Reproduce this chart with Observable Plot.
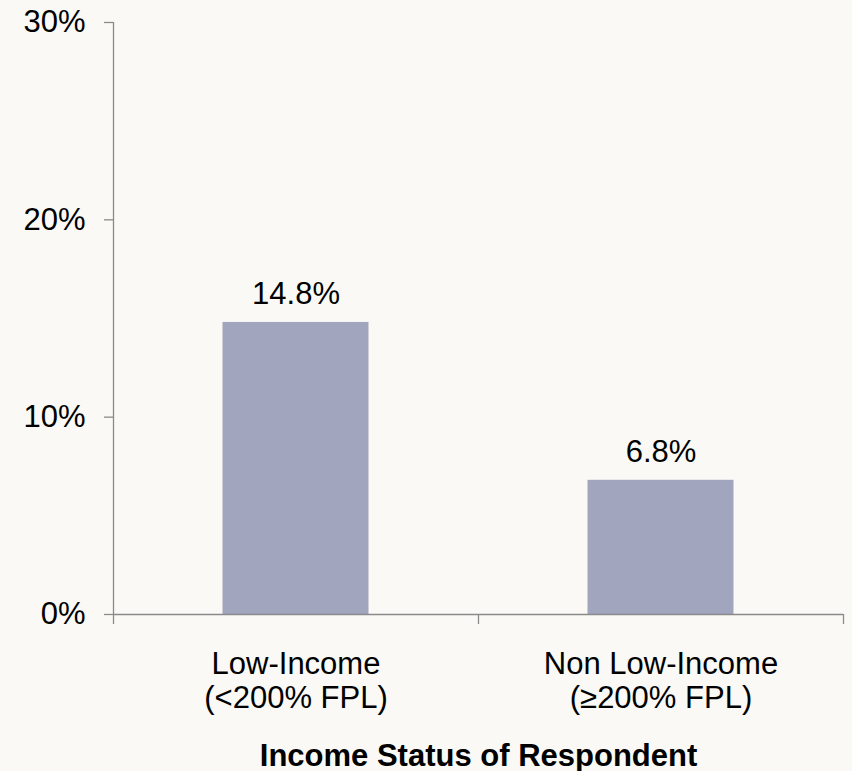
<!DOCTYPE html>
<html>
<head>
<meta charset="utf-8">
<script src="https://cdn.jsdelivr.net/npm/d3@7"></script>
<script src="https://cdn.jsdelivr.net/npm/@observablehq/plot@0.6"></script>
<style>
  html, body { margin: 0; padding: 0; background: #FAF9F5; }
  #chart svg { display: block; }
</style>
</head>
<body>
<div id="chart"></div>
<script>
const categories = ["Low-Income\n(<200% FPL)", "Non Low-Income\n(≥200% FPL)"];
const values = [14.8, 6.8];
const yTicks = [0, 10, 20, 30];
const axisTitle = "Income Status of Respondent";

const data = categories.map((c, i) => ({category: c, value: values[i], index: i}));
const bounds = d3.range(categories.length + 1);

const axisColor = "#8A8A8A";
const font = "'Liberation Sans', Arial, sans-serif";

const chart = Plot.plot({
  width: 852,
  height: 771,
  marginLeft: 113,
  marginRight: 9,
  marginTop: 22,
  marginBottom: 157,
  style: {background: "#FAF9F5", fontFamily: font, color: "#000"},
  x: {type: "linear", domain: [0, categories.length]},
  y: {domain: [0, 30]},
  marks: [
    Plot.rectY(data, {
      x1: "index",
      x2: d => d.index + 1,
      y: "value",
      insetLeft: 109.5,
      insetRight: 109.5,
      fill: "#A1A5BD"
    }),
    Plot.ruleX([0], {stroke: axisColor, strokeWidth: 1.3}),
    Plot.ruleY([0], {stroke: axisColor, strokeWidth: 1.3}),
    Plot.axisY(yTicks, {
      tickSize: 9,
      tickPadding: 19,
      tickFormat: d => d + "%",
      fontSize: 31,
      stroke: axisColor,
      strokeWidth: 1.3,
      fill: "#000",
      label: null
    }),
    Plot.axisX(bounds, {
      tickSize: 10,
      tickFormat: () => "",
      stroke: axisColor,
      strokeWidth: 1.3,
      label: null
    }),
    Plot.text(data, {
      x: d => d.index + 0.5,
      y: 0,
      text: "category",
      lineAnchor: "top",
      lineHeight: 1.1,
      dy: 35,
      fontSize: 31,
      fill: "#000"
    }),
    Plot.text(data, {
      x: d => d.index + 0.5,
      y: "value",
      text: d => d.value.toFixed(1) + "%",
      lineAnchor: "bottom",
      dy: -18,
      fontSize: 31,
      fill: "#000"
    }),
    Plot.text([axisTitle], {
      frameAnchor: "bottom",
      lineAnchor: "bottom",
      dy: 151,
      fontSize: 31,
      fontWeight: "bold",
      fill: "#000"
    })
  ]
});

document.getElementById("chart").append(chart);
</script>
</body>
</html>
